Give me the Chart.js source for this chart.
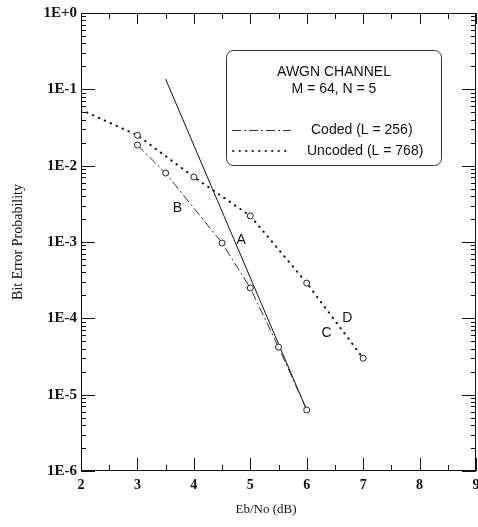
<!DOCTYPE html>
<html>
<head>
<meta charset="utf-8">
<script src="https://cdn.jsdelivr.net/npm/chart.js@4"></script>
<style>
  html, body { margin: 0; padding: 0; background: #fff; }
  #ber-chart { display: block; }
</style>
</head>
<body>
<canvas id="ber-chart" width="478" height="527"></canvas>
<script>
// =============================
// Chart Data
// =============================

// Coded curve (L = 256), dash-dot with circles
const codedEbNo = [3, 3.5, 4.5, 5, 5.5, 6];
const codedBer = [0.0186, 0.008, 9.7e-4, 2.5e-4, 4.2e-5, 6.3e-6];

// Uncoded curve (L = 768), dotted with circles
const uncodedEbNo = [2, 3, 4, 5, 6, 7];
const uncodedBer = [0.054, 0.025, 0.0071, 0.0022, 2.9e-4, 3.0e-5];

// Straight solid line "A"
const lineAEbNo = [3.5, 6];
const lineABer = [0.136, 6.3e-6];

// Axis ticks
const xTicks = [2, 3, 4, 5, 6, 7, 8, 9];
const yDecades = [1, 1e-1, 1e-2, 1e-3, 1e-4, 1e-5, 1e-6];

// Curve labels (text, x, y)
const curveLabels = ['A', 'B', 'C', 'D'];
const curveLabelX = [4.84, 3.71, 6.35, 6.72];
const curveLabelY = [1.06e-3, 2.8e-3, 6.4e-5, 1.0e-4];

const toPoints = (xs, ys) => xs.map((x, i) => ({ x: x, y: ys[i] }));

const SERIF = '"Liberation Serif", "DejaVu Serif", serif';
const SANS = '"Liberation Sans", "DejaVu Sans", sans-serif';

// =============================
// Frame, inward ticks, labels and legend box
// =============================
const framePlugin = {
    id: 'frame',
    afterDatasetsDraw(chart) {
        const ctx = chart.ctx;
        const area = chart.chartArea;
        const xs = chart.scales.x;
        const ys = chart.scales.y;

        ctx.save();
        ctx.strokeStyle = '#111';
        ctx.lineWidth = 1;
        ctx.strokeRect(area.left + 0.5, area.top + 0.5, area.right - area.left - 1, area.bottom - area.top - 1);

        // x ticks: majors on integers, minors on halves (top and bottom, pointing in)
        ctx.beginPath();
        for (let v = 2; v <= 9; v += 0.5) {
            const px = Math.round(xs.getPixelForValue(v)) + 0.5;
            const major = Number.isInteger(v);
            ctx.moveTo(px, area.bottom);
            ctx.lineTo(px, area.bottom - (major ? 13 : 6));
            ctx.moveTo(px, area.top);
            ctx.lineTo(px, area.top + (major ? 11 : 6));
        }
        // y ticks: decades long, 2..9 short (left and right, pointing in)
        for (let e = -6; e <= 0; e++) {
            for (let m = 1; m <= 9; m++) {
                const v = m * Math.pow(10, e);
                if (v > 1) break;
                const py = Math.round(ys.getPixelForValue(v)) + 0.5;
                const len = m === 1 ? 14 : 5;
                ctx.moveTo(area.left, py);
                ctx.lineTo(area.left + len, py);
                ctx.moveTo(area.right, py);
                ctx.lineTo(area.right - len, py);
            }
        }
        ctx.stroke();

        // Curve letters
        ctx.fillStyle = '#111';
        ctx.textAlign = 'center';
        ctx.textBaseline = 'middle';
        ctx.font = '14px ' + SANS;
        curveLabels.forEach((t, i) => {
            ctx.fillText(t, xs.getPixelForValue(curveLabelX[i]), ys.getPixelForValue(curveLabelY[i]));
        });

        // x axis title
        ctx.font = '13px ' + SERIF;
        ctx.fillText('Eb/No (dB)', 266, 510);

        // Legend box
        ctx.strokeStyle = '#333';
        ctx.beginPath();
        ctx.roundRect(226.5, 50.5, 215, 115, 7);
        ctx.stroke();

        ctx.font = '14px ' + SANS;
        ctx.fillText('AWGN CHANNEL', 334, 72);
        ctx.fillText('M = 64, N = 5', 334, 89);

        ctx.textAlign = 'left';
        ctx.fillText('Coded (L = 256)', 311, 130);
        ctx.fillText('Uncoded (L = 768)', 307, 151);

        ctx.lineWidth = 1;
        ctx.setLineDash([9, 3, 2, 3]);
        ctx.beginPath();
        ctx.moveTo(232, 130.5);
        ctx.lineTo(291, 130.5);
        ctx.stroke();

        ctx.lineWidth = 2;
        ctx.lineCap = 'round';
        ctx.setLineDash([0.5, 6]);
        ctx.beginPath();
        ctx.moveTo(233, 151);
        ctx.lineTo(291, 151);
        ctx.stroke();
        ctx.restore();
    }
};

// =============================
// Chart
// =============================
const ctx = document.getElementById('ber-chart').getContext('2d');
new Chart(ctx, {
    type: 'line',
    data: {
        datasets: [
            {
                label: 'Coded (L = 256)',
                data: toPoints(codedEbNo, codedBer),
                borderColor: '#333',
                borderWidth: 1,
                borderDash: [9, 3, 2, 3],
                pointRadius: 3,
                pointBorderWidth: 1,
                pointBorderColor: '#222',
                pointBackgroundColor: '#fff'
            },
            {
                label: 'Uncoded (L = 768)',
                data: toPoints(uncodedEbNo, uncodedBer),
                borderColor: '#111',
                borderWidth: 2,
                borderDash: [0.5, 6],
                borderCapStyle: 'round',
                pointRadius: [0, 3, 3, 3, 3, 3],
                pointBorderWidth: 1,
                pointBorderColor: '#222',
                pointBackgroundColor: '#fff'
            },
            {
                label: 'A',
                data: toPoints(lineAEbNo, lineABer),
                borderColor: '#111',
                borderWidth: 1,
                pointRadius: 0
            }
        ]
    },
    options: {
        responsive: false,
        animation: false,
        layout: {
            autoPadding: false,
            padding: { top: 13, right: 2, left: 0, bottom: 0 }
        },
        plugins: {
            legend: { display: false },
            tooltip: { enabled: false }
        },
        scales: {
            x: {
                type: 'linear',
                min: 2,
                max: 9,
                afterFit: scale => {
                    scale.height = 56;
                    scale.paddingLeft = 0;
                    scale.paddingRight = 0;
                },
                afterBuildTicks: scale => { scale.ticks = xTicks.map(v => ({ value: v })); },
                grid: { display: false, drawTicks: false },
                border: { display: false },
                ticks: {
                    padding: 6,
                    color: '#111',
                    font: { family: SERIF, size: 14, weight: 'bold' }
                }
            },
            y: {
                type: 'logarithmic',
                min: 1e-6,
                max: 1,
                afterFit: scale => {
                    scale.width = 81;
                    scale.paddingTop = 0;
                    scale.paddingBottom = 0;
                },
                afterBuildTicks: scale => { scale.ticks = yDecades.map(v => ({ value: v })); },
                grid: { display: false, drawTicks: false },
                border: { display: false },
                ticks: {
                    padding: 4,
                    color: '#111',
                    font: { family: SERIF, size: 15, weight: 'bold' },
                    callback: value => {
                        const e = Math.round(Math.log10(value));
                        return '1E' + (e >= 0 ? '+' : '') + e;
                    }
                },
                title: {
                    display: true,
                    text: 'Bit Error Probability',
                    color: '#111',
                    padding: { top: 10, bottom: 0 },
                    font: { family: SERIF, size: 14 }
                }
            }
        }
    },
    plugins: [framePlugin]
});
</script>
</body>
</html>
